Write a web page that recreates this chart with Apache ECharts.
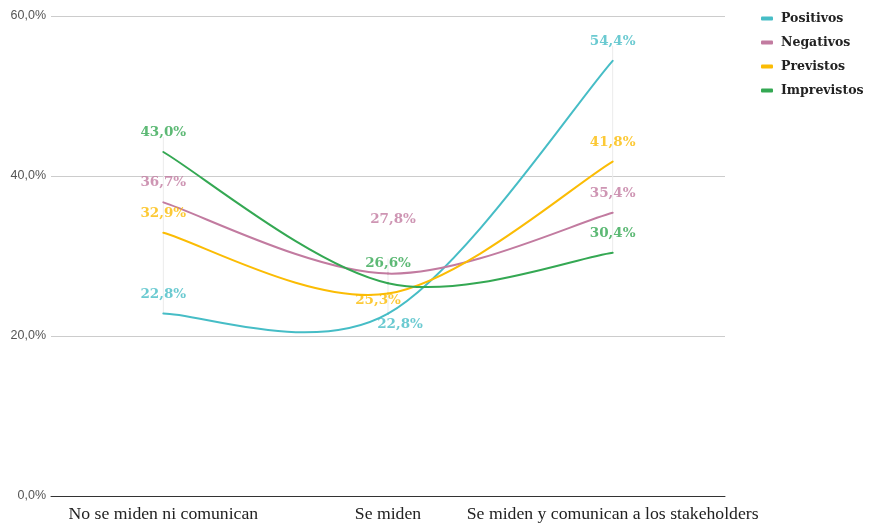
<!DOCTYPE html>
<html>
<head>
<meta charset="utf-8">
<script src="https://cdn.jsdelivr.net/npm/echarts@6/dist/echarts.min.js"></script>
<style>
  html, body { margin: 0; padding: 0; background: #ffffff; }
  #chart { width: 869px; height: 523px; }
</style>
</head>
<body>
<div id="chart"></div>
<script>
// Categories along the horizontal axis
const categories = ['No se miden ni comunican', 'Se miden', 'Se miden y comunican a los stakeholders'];

// Share of responses (%) for each kind of impact
const positivos = [22.8, 22.8, 54.4];
const negativos = [36.7, 27.8, 35.4];
const previstos = [32.9, 25.3, 41.8];
const imprevistos = [43.0, 26.6, 30.4];

// Y-axis range and step (%)
const yMin = 0;
const yMax = 60;
const yStep = 20;

const seriesNames = ['Positivos', 'Negativos', 'Previstos', 'Imprevistos'];
const seriesValues = [positivos, negativos, previstos, imprevistos];
const seriesColors = ['#46bdc6', '#c27ba0', '#fbbc04', '#34a853'];

// Nudges for the crowded labels around "Se miden", so they do not overlap
const labelNudge = {
  'Positivos': { 1: [12, 30] },
  'Negativos': { 1: [5, -35] },
  'Previstos': { 1: [-10, 26] }
};

const fmt = v => v.toFixed(1).replace('.', ',') + '%';
const serif = "'DejaVu Serif', Georgia, 'Liberation Serif', serif";

const chart = echarts.init(document.getElementById('chart'), null, { renderer: 'canvas' });

// Smooth curve through the points (Catmull-Rom spline drawn as cubic Bezier segments),
// one segment per data item, positioned through the axes with api.coord.
function curveRenderer(values, color) {
  return function (params, api) {
    const i = params.dataIndex;
    const n = values.length;
    if (i >= n - 1) return null;
    const pt = k => {
      const c = Math.max(0, Math.min(n - 1, k));
      return api.coord([c, values[c]]);
    };
    const p0 = pt(i - 1), p1 = pt(i), p2 = pt(i + 1), p3 = pt(i + 2);
    return {
      type: 'bezierCurve',
      shape: {
        x1: p1[0], y1: p1[1],
        x2: p2[0], y2: p2[1],
        cpx1: p1[0] + (p2[0] - p0[0]) / 6,
        cpy1: p1[1] + (p2[1] - p0[1]) / 6,
        cpx2: p2[0] - (p3[0] - p1[0]) / 6,
        cpy2: p2[1] - (p3[1] - p1[1]) / 6
      },
      style: { stroke: color, lineWidth: 2, fill: null, lineCap: 'round' },
      silent: true
    };
  };
}

const curveSeries = seriesNames.map((name, i) => ({
  name: name,
  type: 'custom',
  itemStyle: { color: seriesColors[i] },
  encode: { x: 0, y: 1 },
  data: seriesValues[i].map((v, j) => [j, v]),
  renderItem: curveRenderer(seriesValues[i], seriesColors[i]),
  z: 2
}));

// Faint vertical guide at each category, spanning from its highest to its lowest point
const guideSeries = {
  name: 'guides',
  type: 'custom',
  silent: true,
  z: 1,
  encode: { x: 0, y: 1 },
  data: categories.map((c, j) => [j, Math.max(...seriesValues.map(s => s[j]))]),
  renderItem: function (params, api) {
    const j = params.dataIndex;
    const hi = api.coord([j, Math.max(...seriesValues.map(s => s[j]))]);
    const lo = api.coord([j, Math.min(...seriesValues.map(s => s[j]))]);
    return {
      type: 'line',
      shape: { x1: hi[0], y1: hi[1] - 15, x2: lo[0], y2: lo[1] },
      style: { stroke: '#ebebeb', lineWidth: 1 }
    };
  }
};

// Value labels above each point
const labelSeries = seriesNames.map((name, i) => ({
  name: name,
  type: 'scatter',
  symbolSize: 1,
  itemStyle: { color: 'rgba(0,0,0,0)' },
  z: 3,
  data: seriesValues[i].map((v, j) => {
    const item = { value: [j, v] };
    const nudge = labelNudge[name] && labelNudge[name][j];
    if (nudge) item.label = { offset: nudge };
    return item;
  }),
  label: {
    show: true,
    position: 'top',
    distance: 12,
    color: seriesColors[i],
    fontFamily: serif,
    fontWeight: 'bold',
    fontSize: 13.5,
    formatter: p => fmt(p.value[1])
  }
}));

chart.setOption({
  backgroundColor: '#ffffff',
  animation: false,
  color: seriesColors,
  grid: { left: 51, right: 144, top: 16, bottom: 27, containLabel: false },
  legend: {
    orient: 'vertical',
    left: 756,
    top: 7,
    itemWidth: 12,
    itemHeight: 4,
    itemGap: 11,
    textStyle: {
      fontFamily: serif, fontWeight: 'bold', fontSize: 12.5, color: '#222222', padding: [0, 0, 0, 3]
    },
    data: seriesNames.map((n, i) => ({ name: n, icon: 'roundRect', itemStyle: { color: seriesColors[i] } }))
  },
  xAxis: {
    type: 'category',
    data: categories,
    boundaryGap: true,
    axisLine: { lineStyle: { color: '#333333', width: 1 } },
    axisTick: { show: false },
    axisLabel: {
      interval: 0,
      margin: 9,
      fontFamily: "'Liberation Serif', 'Times New Roman', serif",
      fontSize: 17.7,
      color: '#222222'
    }
  },
  yAxis: {
    type: 'value',
    min: yMin,
    max: yMax,
    interval: yStep,
    axisLine: { show: false },
    axisTick: { show: false },
    splitLine: { lineStyle: { color: '#cccccc', width: 1 } },
    axisLabel: {
      margin: 5,
      fontFamily: "'Liberation Sans', Arial, sans-serif",
      fontSize: 12.5,
      color: '#555555',
      formatter: v => v.toFixed(1).replace('.', ',') + '%'
    }
  },
  series: [guideSeries].concat(curveSeries, labelSeries)
});
</script>
</body>
</html>
